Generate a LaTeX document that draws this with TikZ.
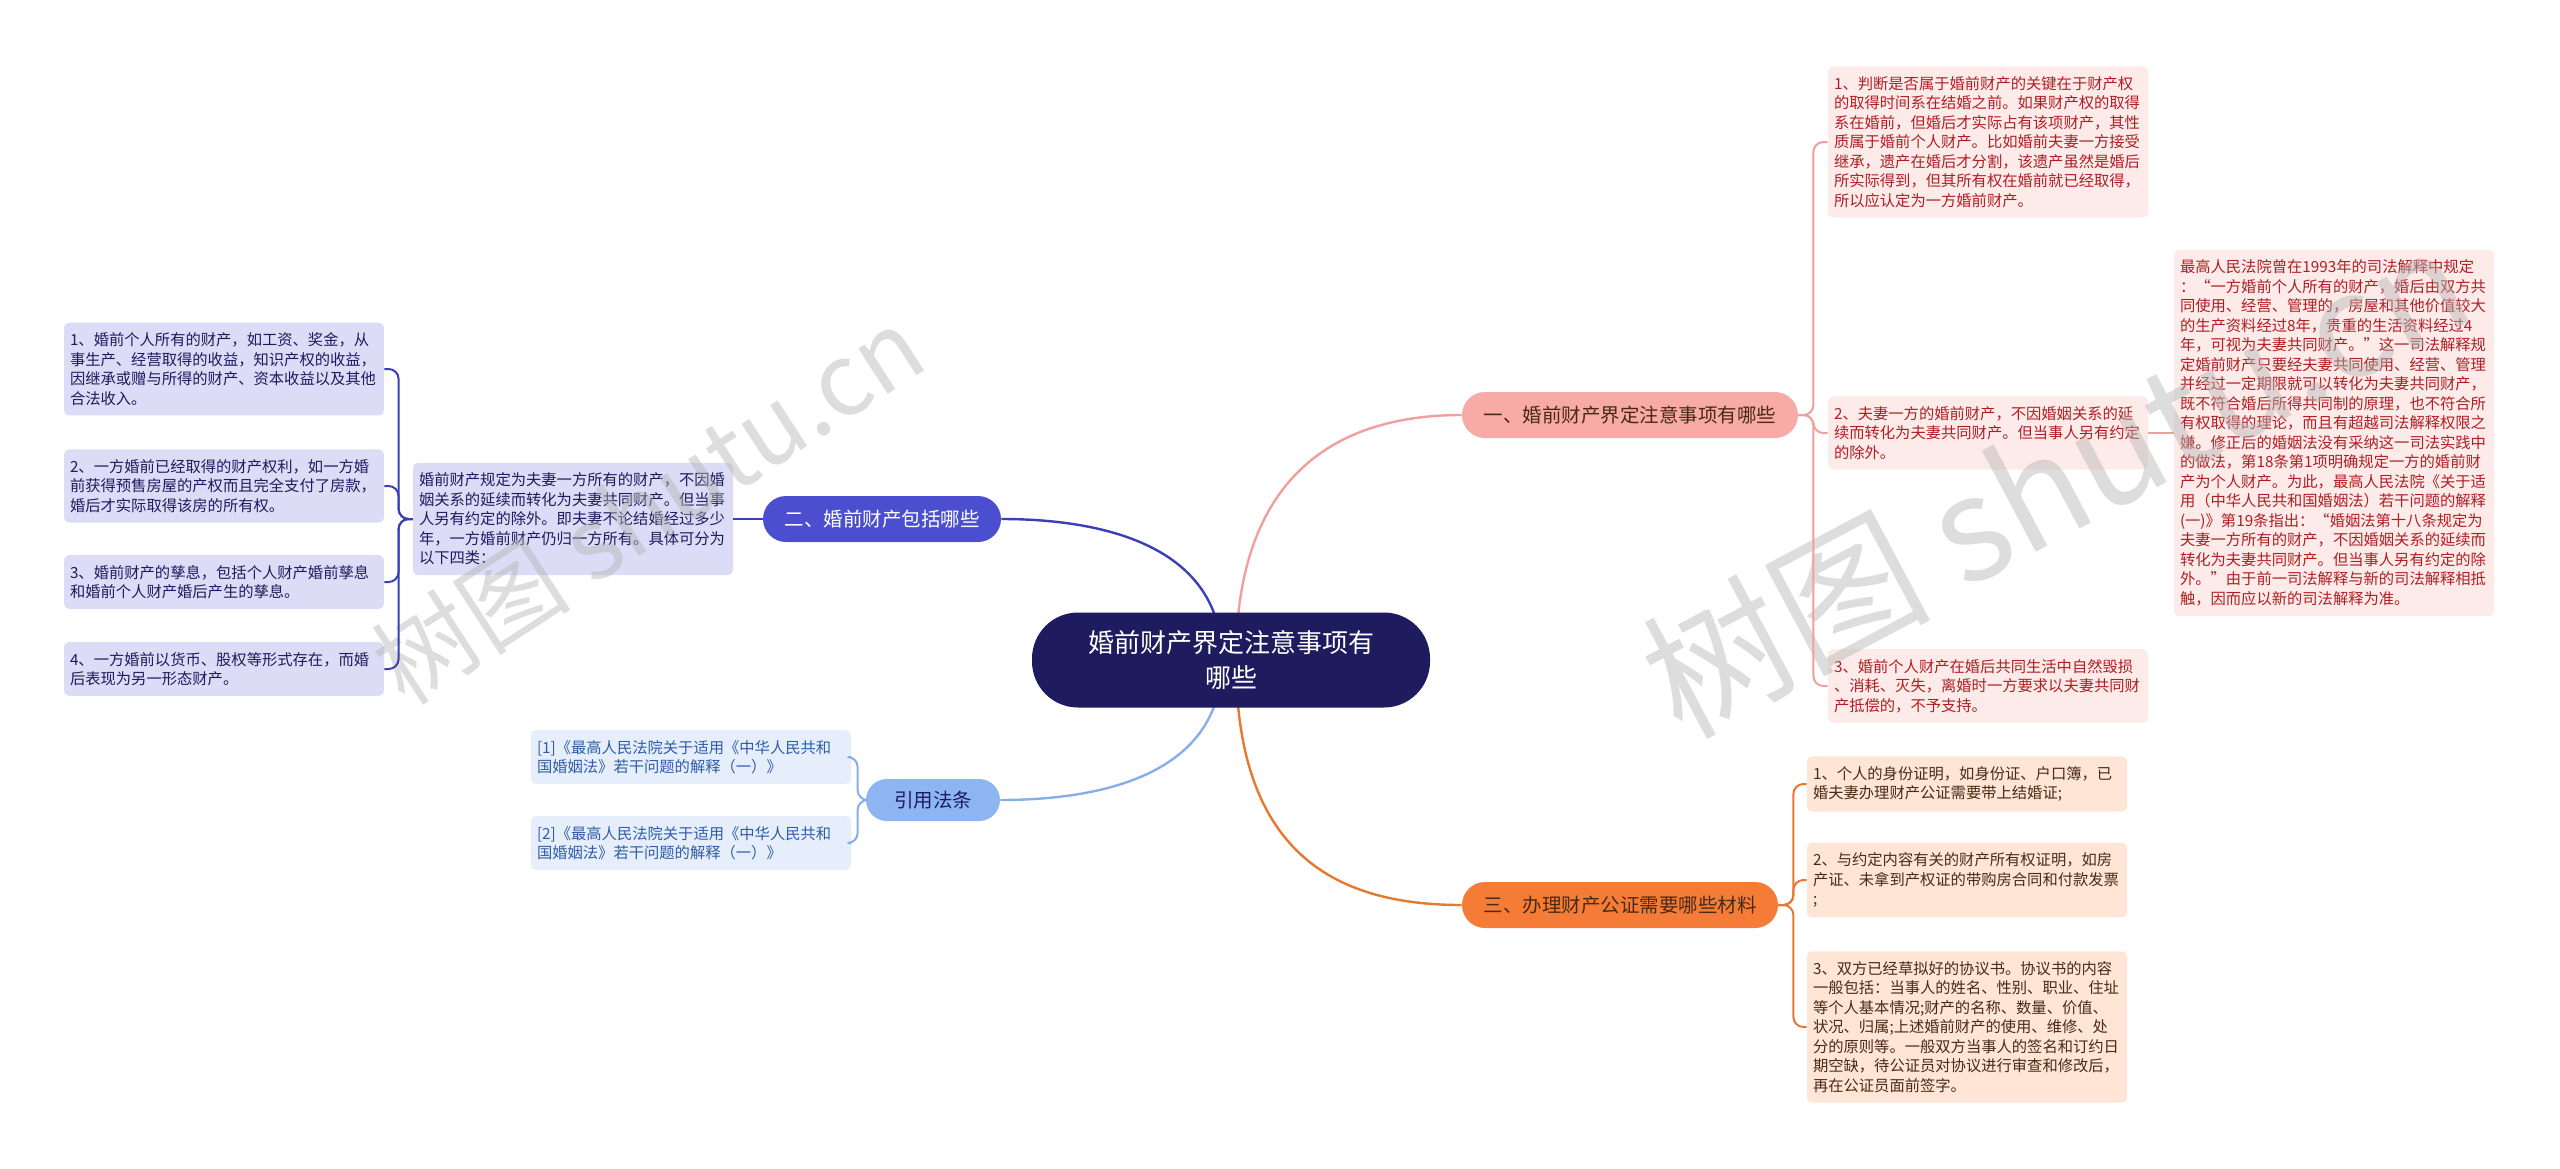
\documentclass[tikz,border=0pt]{standalone}
\usepackage{fontspec}
\setmainfont{Noto Sans CJK SC}
\usetikzlibrary{calc}
\pgfdeclarelayer{background}
\pgfsetlayers{background,main}
\definecolor{navy}{HTML}{1E1B5E}
\definecolor{bpink}{HTML}{F8AAA6}
\definecolor{bblue}{HTML}{4B4FCF}
\definecolor{borange}{HTML}{F47C36}
\definecolor{blight}{HTML}{8DB5F2}
\definecolor{lpink}{HTML}{FDEBEA}
\definecolor{tred}{HTML}{B01E23}
\definecolor{lorange}{HTML}{FEE5D6}
\definecolor{tbrown}{HTML}{4A2A14}
\definecolor{llav}{HTML}{DCDCF6}
\definecolor{lcite}{HTML}{E6EEFB}
\definecolor{tcite}{HTML}{2F5DA8}
\definecolor{cpink}{HTML}{F0A09C}
\definecolor{cblue}{HTML}{3A3FB8}
\definecolor{corange}{HTML}{E8782F}
\definecolor{clight}{HTML}{86AEEB}
\definecolor{wmgray}{HTML}{B4B4B4}
\begin{document}
\begin{tikzpicture}[x=0.5pt,y=-0.5pt,
  leaf/.style={rounded corners=2.5pt, inner xsep=3pt, inner ysep=5pt, text width=154pt, align=left,
    font=\fontsize{7.65pt}{9.75pt}\selectfont},
  leafR/.style={leaf, fill=lpink, text=tred},
  leafO/.style={leaf, fill=lorange, text=tbrown},
  leafL/.style={leaf, fill=llav, text=navy},
  leafC/.style={leaf, fill=lcite, text=tcite},
  branch/.style={rounded corners=11.5pt, minimum height=23pt, inner xsep=0pt, align=center,
    font=\fontsize{9.75pt}{12pt}\selectfont},
  conn/.style={line width=1.2pt},
  brk/.style={line width=1pt, rounded corners=5pt},
  wm/.style={text=wmgray, opacity=0.45, font=\fontsize{50pt}{60pt}\selectfont}
]
\useasboundingbox (0,0) rectangle (2560,1168);

% central topic
\node[fill=navy, text=white, rounded corners=23pt, minimum width=199pt, minimum height=47.5pt,
  align=center, font=\fontsize{13pt}{17.5pt}\selectfont] (c) at (1231,660)
  {婚前财产界定注意事项有\\哪些};

% branches
\node[branch, fill=bpink, text=tbrown, minimum width=168pt] (b1) at (1630,415) {一、婚前财产界定注意事项有哪些};
\node[branch, fill=bblue, text=white, minimum width=119pt] (b2) at (882,519) {二、婚前财产包括哪些};
\node[branch, fill=borange, text=tbrown, minimum width=158pt] (b3) at (1620,905) {三、办理财产公证需要哪些材料};
\node[branch, fill=blight, text=navy, minimum width=67pt, minimum height=21pt, rounded corners=10.5pt] (b4) at (933,800) {引用法条};

% right pink leaves
\node[leafR] (r1) at (1988,142) {1、判断是否属于婚前财产的关键在于财产权\\的取得时间系在结婚之前。如果财产权的取得\\系在婚前，但婚后才实际占有该项财产，其性\\质属于婚前个人财产。比如婚前夫妻一方接受\\继承，遗产在婚后才分割，该遗产虽然是婚后\\所实际得到，但其所有权在婚前就已经取得，\\所以应认定为一方婚前财产。};
\node[leafR] (rm) at (1988,433) {2、夫妻一方的婚前财产，不因婚姻关系的延\\续而转化为夫妻共同财产。但当事人另有约定\\的除外。};
\node[leafR] (r3) at (1988,686) {3、婚前个人财产在婚后共同生活中自然毁损\\、消耗、灭失，离婚时一方要求以夫妻共同财\\产抵偿的，不予支持。};
\node[leafR] (r2) at (2334,433) {最高人民法院曾在1993年的司法解释中规定\\：“一方婚前个人所有的财产，婚后由双方共\\同使用、经营、管理的，房屋和其他价值较大\\的生产资料经过8年，贵重的生活资料经过4\\年，可视为夫妻共同财产。”这一司法解释规\\定婚前财产只要经夫妻共同使用、经营、管理\\并经过一定期限就可以转化为夫妻共同财产，\\既不符合婚后所得共同制的原理，也不符合所\\有权取得的理论，而且有超越司法解释权限之\\嫌。修正后的婚姻法没有采纳这一司法实践中\\的做法，第18条第1项明确规定一方的婚前财\\产为个人财产。为此，最高人民法院《关于适\\用（中华人民共和国婚姻法）若干问题的解释\\(一)》第19条指出：“婚姻法第十八条规定为\\夫妻一方所有的财产，不因婚姻关系的延续而\\转化为夫妻共同财产。但当事人另有约定的除\\外。”由于前一司法解释与新的司法解释相抵\\触，因而应以新的司法解释为准。};

% orange leaves
\node[leafO] (o1) at (1967,784) {1、个人的身份证明，如身份证、户口簿，已\\婚夫妻办理财产公证需要带上结婚证;};
\node[leafO] (o2) at (1967,880) {2、与约定内容有关的财产所有权证明，如房\\产证、未拿到产权证的带购房合同和付款发票\\;};
\node[leafO] (o3) at (1967,1027) {3、双方已经草拟好的协议书。协议书的内容\\一般包括：当事人的姓名、性别、职业、住址\\等个人基本情况;财产的名称、数量、价值、\\状况、归属;上述婚前财产的使用、维修、处\\分的原则等。一般双方当事人的签名和订约日\\期空缺，待公证员对协议进行审查和修改后，\\再在公证员面前签字。};

% middle and left lavender leaves
\node[leafL] (m) at (573,519) {婚前财产规定为夫妻一方所有的财产，不因婚\\姻关系的延续而转化为夫妻共同财产。但当事\\人另有约定的除外。即夫妻不论结婚经过多少\\年，一方婚前财产仍归一方所有。具体可分为\\以下四类：};
\node[leafL] (l1) at (224,369) {1、婚前个人所有的财产，如工资、奖金，从\\事生产、经营取得的收益，知识产权的收益，\\因继承或赠与所得的财产、资本收益以及其他\\合法收入。};
\node[leafL] (l2) at (224,486) {2、一方婚前已经取得的财产权利，如一方婚\\前获得预售房屋的产权而且完全支付了房款，\\婚后才实际取得该房的所有权。};
\node[leafL] (l3) at (224,582) {3、婚前财产的孳息，包括个人财产婚前孳息\\和婚前个人财产婚后产生的孳息。};
\node[leafL] (l4) at (224,669) {4、一方婚前以货币、股权等形式存在，而婚\\后表现为另一形态财产。};

% citations
\node[leafC] (c1) at (691,757) {[1]《最高人民法院关于适用《中华人民共和\\国婚姻法》若干问题的解释（一）》};
\node[leafC] (c2) at (691,843) {[2]《最高人民法院关于适用《中华人民共和\\国婚姻法》若干问题的解释（一）》};

% watermarks
\node[wm, rotate=33] (wm1) at (648,505) {树图 shutu.cn};
\node[wm, rotate=28, font=\fontsize{72pt}{80pt}\selectfont] (wm2) at (2055,480) {树图 shutu.cn};

\begin{pgfonlayer}{background}
\draw[conn, cpink] ($(c.center)+(5,0)$) .. controls ($(c.center)+(5,-180)$) and ($(b1.west)+(-130,0)$) .. (b1.west);
\draw[conn, cblue] ($(c.center)+(-9,0)$) .. controls ($(c.center)+(-9,-120)$) and ($(b2.east)+(90,0)$) .. (b2.east);
\draw[conn, clight] ($(c.center)+(-9,0)$) .. controls ($(c.center)+(-9,120)$) and ($(b4.east)+(90,0)$) .. (b4.east);
\draw[conn, corange] ($(c.center)+(5,0)$) .. controls ($(c.center)+(5,190)$) and ($(b3.west)+(-130,0)$) .. (b3.west);
\end{pgfonlayer}

% brackets
\draw[brk, cpink] (b1.east) -- ++(15,0) |- (r1.west);
\draw[brk, cpink] (b1.east) -- ++(15,0) |- (rm.west);
\draw[brk, cpink] (b1.east) -- ++(15,0) |- (r3.west);
\draw[brk, cpink] (rm.east) -- (r2.west);
\draw[brk, corange] (b3.east) -- ++(15,0) |- (o1.west);
\draw[brk, corange] (b3.east) -- ++(15,0) |- (o2.west);
\draw[brk, corange] (b3.east) -- ++(15,0) |- (o3.west);
\draw[brk, cblue] (b2.west) -- (m.east);
\draw[brk, cblue] (m.west) -- ++(-14,0) |- (l1.east);
\draw[brk, cblue] (m.west) -- ++(-14,0) |- (l2.east);
\draw[brk, cblue] (m.west) -- ++(-14,0) |- (l3.east);
\draw[brk, cblue] (m.west) -- ++(-14,0) |- (l4.east);
\draw[brk, clight] (b4.west) -- ++(-8,0) |- (c1.east);
\draw[brk, clight] (b4.west) -- ++(-8,0) |- (c2.east);
\end{tikzpicture}
\end{document}
